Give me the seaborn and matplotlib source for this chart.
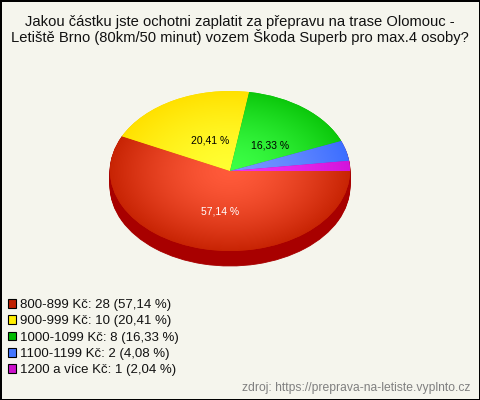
import matplotlib
matplotlib.use("Agg")
import matplotlib.pyplot as plt
import numpy as np
import seaborn as sns
from matplotlib.colors import LinearSegmentedColormap
from matplotlib.patches import Patch

categories = ["800-899 Kč", "900-999 Kč", "1000-1099 Kč", "1100-1199 Kč", "1200 a více Kč"]
counts = [28, 10, 8, 2, 1]

TITLE = "Jakou částku jste ochotni zaplatit za přepravu na trase Olomouc -\nLetiště Brno (80km/50 minut) vozem Škoda Superb pro max.4 osoby?"
SOURCE = "zdroj: https://preprava-na-letiste.vyplnto.cz"

BG = "#f5f5ed"
EDGE_COLORS = ["#c82404", "#ffe100", "#0cc80c", "#3c6eff", "#d214dc"]
CENTER_COLORS = ["#ff5a3a", "#ffff32", "#3cff46", "#7896ff", "#f032f0"]
LEGEND_COLORS = ["#c02000", "#ffee00", "#00bb00", "#4477ff", "#cc11cc"]
SIDE_COLOR = "#a80000"

# pie size in pixels, the axes fill the whole figure
W, H = 480, 400
CX, CY, RX, RY, DEPTH = 230, 171, 120, 80, 15

sns.set_theme(style="white")
plt.rcParams["font.family"] = ["Liberation Sans", "DejaVu Sans"]


def pct_label(pct):
    if pct < 5:
        return ""
    return f"{pct:.2f} %".replace(".", ",")


def main():
    fig = plt.figure(figsize=(W / 100, H / 100), dpi=100, facecolor=BG)
    ax = fig.add_axes([0, 0, 1, 1])
    ax.set_facecolor(BG)

    # side of the disc: dark pies stacked downwards
    for d in range(DEPTH, 0, -1):
        ax.pie(counts, colors=[SIDE_COLOR] * len(counts), startangle=0, counterclock=False,
               center=(0, -d / RY), radius=1,
               wedgeprops={"linewidth": 0.6, "edgecolor": SIDE_COLOR})

    wedges, _, autotexts = ax.pie(
        counts,
        colors=EDGE_COLORS,
        startangle=0,
        counterclock=False,
        center=(0, 0),
        radius=1,
        autopct=pct_label,
        pctdistance=0.5,
        wedgeprops={"linewidth": 0},
        textprops={"fontsize": 7.5},
    )

    xlim = (-CX / RX, (W - CX) / RX)
    ylim = ((CY - H) / RY, CY / RY)

    # radial shading of each slice
    xx, yy = np.meshgrid(np.linspace(-1, 1, 400), np.linspace(-1, 1, 400))
    dist = np.clip(np.hypot(xx, yy), 0, 1) ** 1.5
    for wedge, inner, outer in zip(wedges, CENTER_COLORS, EDGE_COLORS):
        cmap = LinearSegmentedColormap.from_list("shade", [inner, outer])
        img = ax.imshow(dist, cmap=cmap, vmin=0, vmax=1, extent=(-1, 1, -1, 1),
                        origin="lower", aspect="auto", zorder=wedge.get_zorder() + 0.1)
        img.set_clip_path(wedge)
    ax.set_xlim(xlim)
    ax.set_ylim(ylim)
    ax.set_aspect("auto")
    ax.set_axis_off()

    # labels sit a little off the pie's own spot in the original
    nudges = [(3, -2), (8, -5), (3, -6), (0, 0), (0, 0)]
    for t, col, (dx, dy) in zip(autotexts, ["white", "black", "black", "black", "black"], nudges):
        t.set_color(col)
        t.set_zorder(5)
        px, py = t.get_position()
        t.set_position((px + dx / RX, py + dy / RY))

    fig.text(0.5, 1 - 30 / H, TITLE, ha="center", va="center", fontsize=10.67,
             color="#111111", linespacing=1.0)
    fig.text(1 - 10 / W, 1 - 388 / H, SOURCE, ha="right", va="center", fontsize=8.7, color="#808080")

    total = sum(counts)
    handles = [Patch(facecolor=c, edgecolor="black", linewidth=0.8) for c in LEGEND_COLORS]
    labels = [
        f"{cat}: {n} ({n / total * 100:.2f} %)".replace(".", ",")
        for cat, n in zip(categories, counts)
    ]
    fig.legend(
        handles, labels,
        loc="upper left",
        bbox_to_anchor=(8 / W, 1 - 299 / H),
        borderaxespad=0, borderpad=0,
        frameon=False,
        fontsize=9.5,
        handlelength=0.62, handleheight=0.62,
        handletextpad=0.28,
        labelspacing=0.33,
        labelcolor="#111111",
    )
    fig.patch.set_edgecolor("black")
    fig.patch.set_linewidth(2)

    fig.savefig("out.png", dpi=100, facecolor=BG, edgecolor="black")


if __name__ == "__main__":
    main()
